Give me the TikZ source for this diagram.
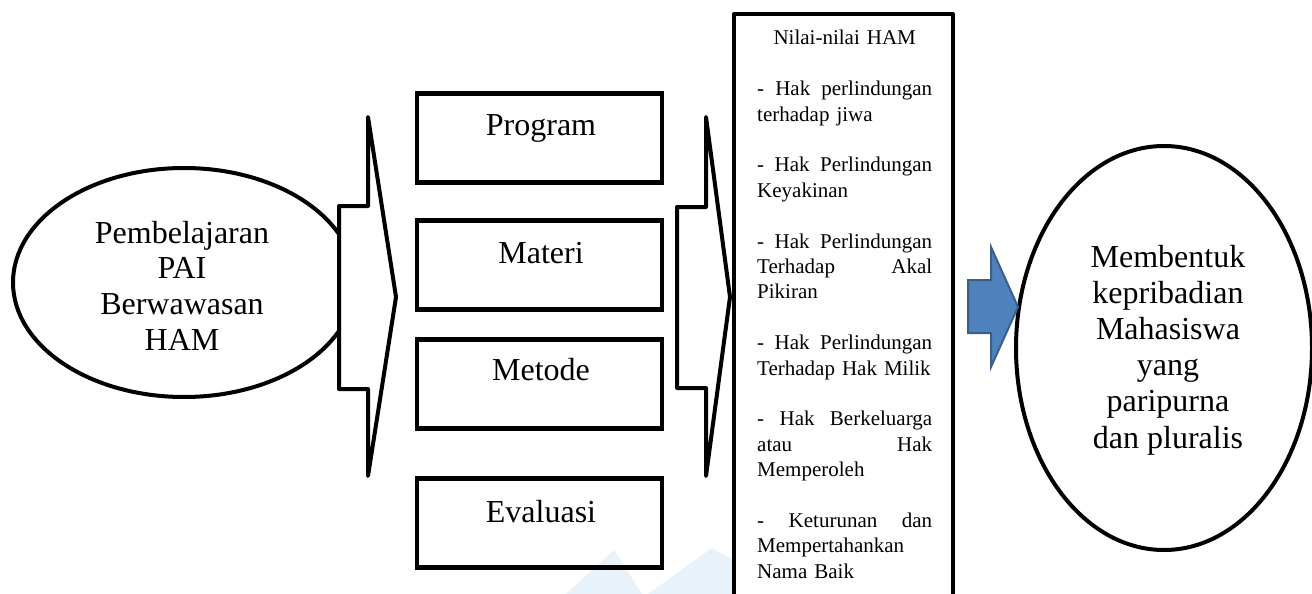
\documentclass[tikz,border=0pt]{standalone}
\usepackage{fontspec}
\setmainfont{Liberation Serif}
\usetikzlibrary{shapes.geometric}
\definecolor{wmblue}{HTML}{E8F2FA}
\definecolor{arrfill}{HTML}{4F81BD}
\definecolor{arrdraw}{HTML}{3A5F8B}
\newcommand{\jline}[1]{\hbox to 175pt{#1}\par}
\newcommand{\lline}[1]{\hbox to 175pt{#1\hfil}\par}
\tikzset{
  bigtext/.style={font=\fontsize{32}{36}\selectfont, align=center, inner sep=0pt},
  oval/.style={draw, ellipse, line width=4pt, fill=white, inner sep=0pt},
  stagebox/.style={draw, rectangle, line width=4.5pt, minimum width=245pt, minimum height=89pt, inner sep=0pt},
  fatarrow/.style={draw, line width=4pt, fill=white, line join=round},
  bluearrow/.style={draw=arrdraw, line width=2pt, fill=arrfill, line join=miter},
  tallbox/.style={draw, line width=4pt, line join=round}
}
\begin{document}
\begin{tikzpicture}[x=1pt,y=-1pt]
\useasboundingbox (0,0) rectangle (1312,594);
\clip (0,0) rectangle (1312,594);
\fill[white] (0,0) rectangle (1312,594);
% faint watermark
\fill[wmblue] (566,594) -- (614,550) -- (642,594) -- cycle;
\fill[wmblue] (648,594) -- (712,548) -- (736,562) -- (736,594) -- cycle;

% left ellipse
\node[oval, minimum width=342pt, minimum height=229pt] (pai) at (184,282.5) {};
\node[bigtext, font=\fontsize{32}{35.7}\selectfont] (paitext) at (182,285.5) {Pembelajaran\\PAI\\Berwawasan\\HAM};

% first arrow
\coordinate (a1s1) at (339,206);
\coordinate (a1s2) at (368,206);
\coordinate (a1h1) at (368,117);
\coordinate (a1tip) at (396,297);
\coordinate (a1h2) at (368,476);
\coordinate (a1s3) at (368,389);
\coordinate (a1s4) at (339,389);
\draw[fatarrow] (a1s1) -- (a1s2) -- (a1h1) -- (a1tip) -- (a1h2) -- (a1s3) -- (a1s4) -- cycle;

% stage boxes
\node[stagebox] (prog) at (539.5,138) {};
\node[stagebox] (mat) at (539.5,265) {};
\node[stagebox] (met) at (539.5,384) {};
\node[stagebox] (eva) at (539.5,523) {};
\node[bigtext, anchor=base] (progt) at (541,135) {Program};
\node[bigtext, anchor=base] (matt) at (541,263) {Materi};
\node[bigtext, anchor=base] (mett) at (541,380) {Metode};
\node[bigtext, anchor=base] (evat) at (541,522) {Evaluasi};

% second arrow
\coordinate (a2s1) at (677,207);
\coordinate (a2s2) at (706,207);
\coordinate (a2h1) at (706,117);
\coordinate (a2tip) at (730,297);
\coordinate (a2h2) at (706,476);
\coordinate (a2s3) at (706,388);
\coordinate (a2s4) at (677,388);
\draw[fatarrow] (a2s1) -- (a2s2) -- (a2h1) -- (a2tip) -- (a2h2) -- (a2s3) -- (a2s4) -- cycle;

% tall box (open at bottom)
\coordinate (tb1) at (734,600);
\coordinate (tb2) at (734,14);
\coordinate (tb3) at (953,14);
\coordinate (tb4) at (953,600);
\draw[tallbox] (tb1) -- (tb2) -- (tb3) -- (tb4);
\node[anchor=base west, inner sep=0pt, text width=175pt, font=\fontsize{21}{25.4}\selectfont] (ham) at (757,45) {%
\parindent=0pt\parskip=0pt
\jline{\hfil Nilai-nilai HAM\hfil}
\mbox{}\par
\jline{-\hfill Hak\hfill perlindungan}
\lline{terhadap jiwa}
\mbox{}\par
\jline{-\hfill Hak\hfill Perlindungan}
\lline{Keyakinan}
\mbox{}\par
\jline{-\hfill Hak\hfill Perlindungan}
\jline{Terhadap\hfill Akal}
\lline{Pikiran}
\mbox{}\par
\jline{-\hfill Hak\hfill Perlindungan}
\lline{Terhadap Hak Milik}
\mbox{}\par
\jline{-\hfill Hak\hfill Berkeluarga}
\jline{atau\hfill Hak}
\lline{Memperoleh}
\mbox{}\par
\jline{-\hfill Keturunan\hfill dan}
\lline{Mempertahankan}
\lline{Nama Baik}
};

% right ellipse
\node[oval, minimum width=296pt, minimum height=404pt] (goal) at (1164,348) {};
\node[bigtext, font=\fontsize{32}{36.2}\selectfont] (goaltext) at (1168,350) {Membentuk\\kepribadian\\Mahasiswa\\yang\\paripurna\\dan pluralis};

% blue arrow
\coordinate (b1) at (968,280);
\coordinate (b2) at (991,280);
\coordinate (b3) at (991,247);
\coordinate (btip) at (1018,307);
\coordinate (b5) at (991,367);
\coordinate (b6) at (991,333);
\coordinate (b7) at (968,333);
\draw[bluearrow] (b1) -- (b2) -- (b3) -- (btip) -- (b5) -- (b6) -- (b7) -- cycle;
\end{tikzpicture}
\end{document}
